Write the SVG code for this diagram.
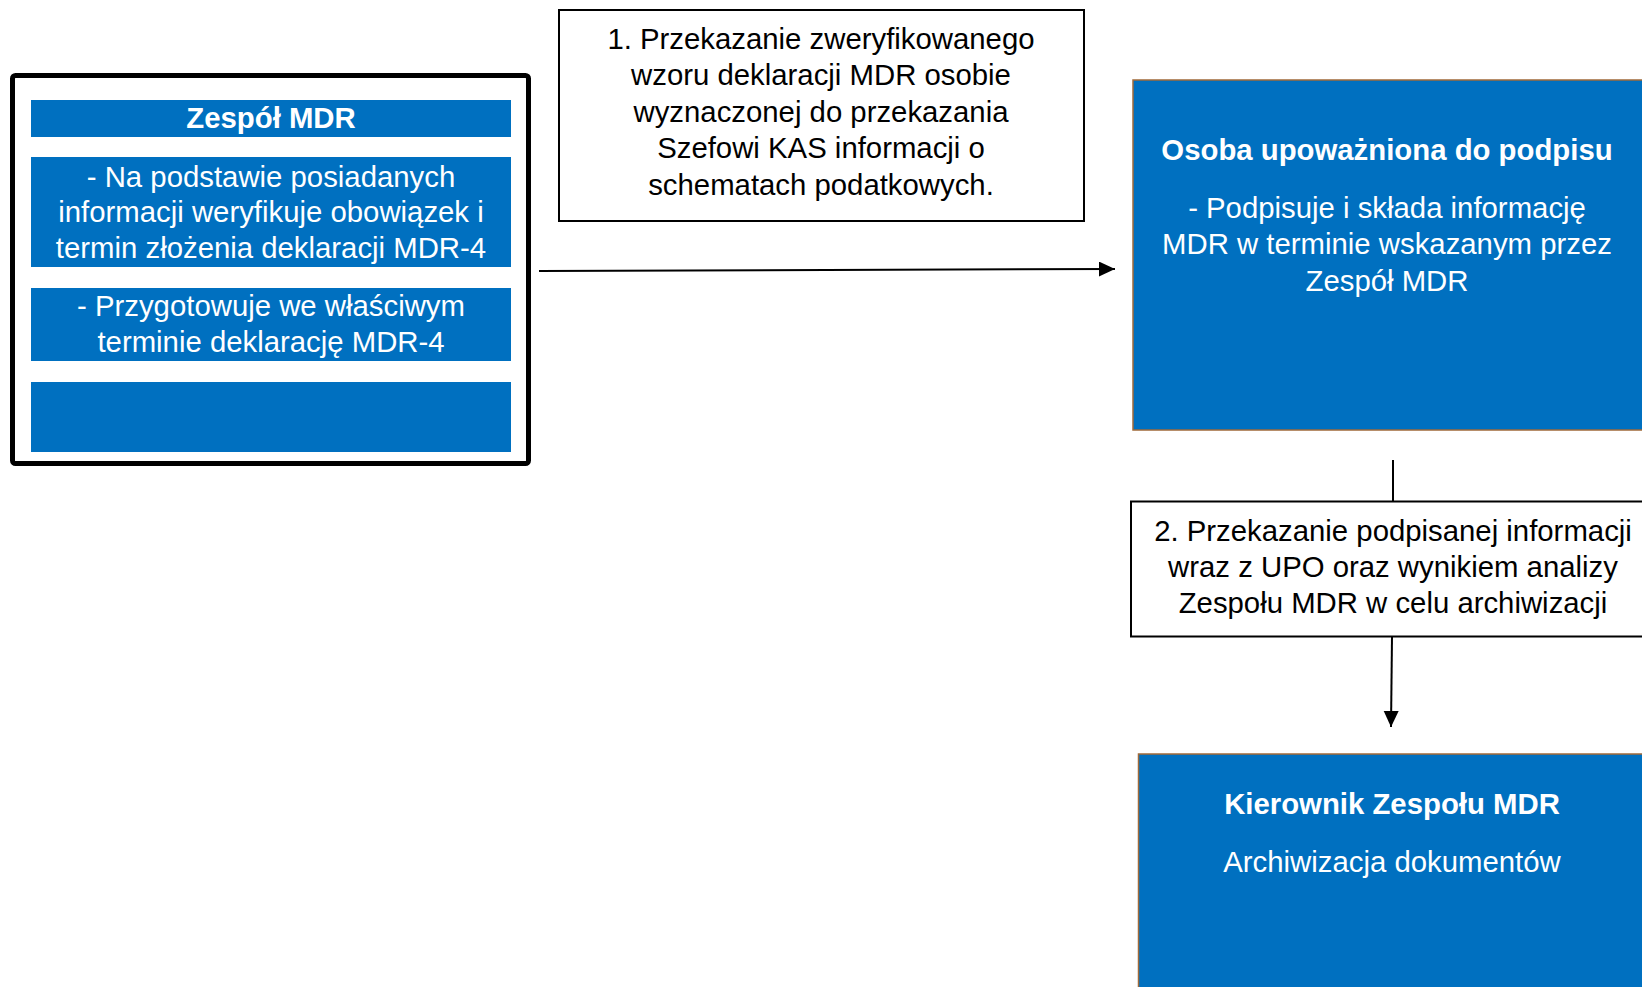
<svg xmlns="http://www.w3.org/2000/svg" width="1642" height="987" viewBox="0 0 1642 987">
<defs>
<style>
.t{font-family:"Liberation Sans",Arial,sans-serif;font-size:29.33px;text-anchor:middle}
.w{fill:#ffffff}
.k{fill:#000000}
.b{font-weight:bold}
.blue{fill:#0070c0}
.node{fill:#0070c0;stroke:#a06a3a;stroke-width:1.5}
.lbl{fill:#ffffff;stroke:#000000;stroke-width:2}
.con{fill:none;stroke:#000000;stroke-width:2}
</style>
<marker id="ah" markerUnits="userSpaceOnUse" markerWidth="16" markerHeight="16" refX="16" refY="7.5" orient="auto">
<path d="M0,0 L16,7.5 L0,15 z" fill="#000000"/>
</marker>
</defs>
<rect width="1642" height="987" fill="#ffffff"/>

<g id="zespol-mdr">
<rect x="12.5" y="75.5" width="516" height="388" rx="3" fill="#ffffff" stroke="#000000" stroke-width="5"/>
<rect class="blue" x="31" y="100" width="480" height="37"/>
<rect class="blue" x="31" y="157" width="480" height="110"/>
<rect class="blue" x="31" y="288" width="480" height="73"/>
<rect class="blue" x="31" y="382" width="480" height="70"/>
<text class="t w b" x="271" y="128">Zespół MDR</text>
<text class="t w" x="271" y="186.5">- Na podstawie posiadanych</text>
<text class="t w" x="271" y="222">informacji weryfikuje obowiązek i</text>
<text class="t w" x="271" y="257.5">termin złożenia deklaracji MDR-4</text>
<text class="t w" x="271" y="316">- Przygotowuje we właściwym</text>
<text class="t w" x="271" y="352">terminie deklarację MDR-4</text>
</g>

<g id="krok-1">
<rect class="lbl" x="559" y="10" width="525" height="211"/>
<text class="t k" x="821" y="48.5">1. Przekazanie zweryfikowanego</text>
<text class="t k" x="821" y="85">wzoru deklaracji MDR osobie</text>
<text class="t k" x="821" y="121.5">wyznaczonej do przekazania</text>
<text class="t k" x="821" y="158">Szefowi KAS informacji o</text>
<text class="t k" x="821" y="194.5">schematach podatkowych.</text>
</g>

<g id="osoba-upowazniona">
<rect class="node" x="1133" y="80" width="510" height="350"/>
<text class="t w b" x="1387" y="160">Osoba upoważniona do podpisu</text>
<text class="t w" x="1387" y="217.5">- Podpisuje i składa informację</text>
<text class="t w" x="1387" y="254">MDR w terminie wskazanym przez</text>
<text class="t w" x="1387" y="290.5">Zespół MDR</text>
</g>

<g id="krok-2">
<rect class="lbl" x="1131" y="501.5" width="512" height="135"/>
<text class="t k" x="1393" y="541">2. Przekazanie podpisanej informacji</text>
<text class="t k" x="1393" y="577">wraz z UPO oraz wynikiem analizy</text>
<text class="t k" x="1393" y="613">Zespołu MDR w celu archiwizacji</text>
</g>

<g id="kierownik">
<rect class="node" x="1138.5" y="754" width="510" height="240"/>
<text class="t w b" x="1392" y="813.5">Kierownik Zespołu MDR</text>
<text class="t w" x="1392" y="871.5">Archiwizacja dokumentów</text>
</g>

<g id="connectors">
<line class="con" x1="539" y1="271" x2="1115" y2="269" marker-end="url(#ah)"/>
<line class="con" x1="1393" y1="460" x2="1393" y2="501.5"/>
<line class="con" x1="1392" y1="636.5" x2="1391" y2="727" marker-end="url(#ah)"/>
</g>
</svg>
